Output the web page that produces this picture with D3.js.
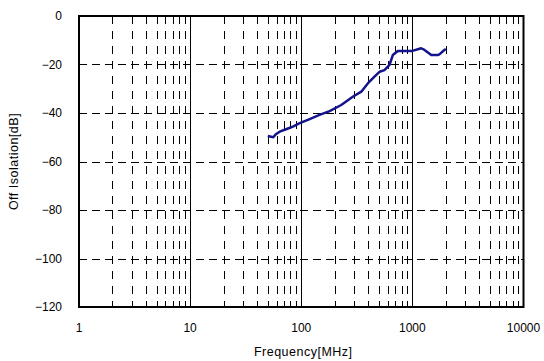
<!DOCTYPE html>
<html>
<head>
<meta charset="utf-8">
<script src="https://cdn.jsdelivr.net/npm/d3@7"></script>
<style>
  body { margin: 0; background: #fff; }
  text { font-family: "Liberation Sans", Arial, sans-serif; fill: #000; }
</style>
</head>
<body>
<div id="svganchor"></div>
<script>
// size of the canvas
const width = 544;
const height = 361;
const margin = { top: 16, left: 79, right: 20, bottom: 54 };

// data
const freq = [50, 56, 59, 64, 74, 84, 97, 119, 146, 180, 229, 291, 347, 397, 456, 506, 561, 622, 667, 740, 1000, 1200, 1285, 1480, 1690, 1750, 1940, 2000];
const isolation = [-49.5, -50, -48.8, -47.7, -46.6, -45.6, -44.2, -42.5, -40.8, -39.2, -36.7, -33.3, -31.2, -27.8, -25, -23, -22.3, -20.2, -16.1, -14.4, -14.4, -13.3, -14, -16.1, -16.1, -15.8, -14, -13.6];
const xTicks = [1, 10, 100, 1000, 10000];
const yTicks = [0, -20, -40, -60, -80, -100, -120];

const svg = d3.select("#svganchor")
  .append("svg")
  .attr("width", width)
  .attr("height", height);

const x = d3.scaleLog()
  .domain([1, 10000])
  .range([margin.left, width - margin.right - 0.5]);

const y = d3.scaleLinear()
  .domain([-120, 0])
  .range([height - margin.bottom, margin.top]);

// minor vertical dashed lines (2..9 in each decade)
const minor = [];
for (let d = 1; d < 10000; d *= 10) {
  for (let k = 2; k <= 9; k++) minor.push(d * k);
}
svg.append("g")
  .selectAll("line")
  .data(minor)
  .enter()
  .append("line")
  .attr("x1", d => Math.round(x(d)) + 0.5)
  .attr("x2", d => Math.round(x(d)) + 0.5)
  .attr("y1", y(0))
  .attr("y2", y(-120))
  .attr("stroke", "#000")
  .attr("stroke-width", 1)
  .attr("stroke-dasharray", "8,7");

// horizontal dashed lines
svg.append("g")
  .selectAll("line")
  .data(yTicks.filter(d => d !== 0 && d !== -120))
  .enter()
  .append("line")
  .attr("x1", x(1))
  .attr("x2", x(10000))
  .attr("y1", d => Math.round(y(d)) + 0.5)
  .attr("y2", d => Math.round(y(d)) + 0.5)
  .attr("stroke", "#000")
  .attr("stroke-width", 1)
  .attr("stroke-dasharray", "8,5");

// solid decade lines
svg.append("g")
  .selectAll("line")
  .data(xTicks.filter(d => d !== 1 && d !== 10000))
  .enter()
  .append("line")
  .attr("x1", d => Math.round(x(d)) + 0.5)
  .attr("x2", d => Math.round(x(d)) + 0.5)
  .attr("y1", y(0))
  .attr("y2", y(-120))
  .attr("stroke", "#000")
  .attr("stroke-width", 1);

// plot frame
svg.append("rect")
  .attr("x", x(1))
  .attr("y", y(0))
  .attr("width", x(10000) - x(1))
  .attr("height", y(-120) - y(0))
  .attr("fill", "none")
  .attr("stroke", "#000")
  .attr("stroke-width", 2);

// the curve
const line = d3.line()
  .x((d, i) => x(freq[i]))
  .y(d => y(d));

svg.append("path")
  .datum(isolation)
  .attr("fill", "none")
  .attr("stroke", "#14148c")
  .attr("stroke-width", 2.5)
  .attr("stroke-linejoin", "round")
  .attr("d", line);

// tick labels
const fmt = d => (d < 0 ? "\u2212" + Math.abs(d) : String(d));

svg.append("g")
  .selectAll("text")
  .data(yTicks)
  .enter()
  .append("text")
  .attr("x", 62)
  .attr("y", d => y(d))
  .attr("dy", "0.35em")
  .attr("text-anchor", "end")
  .style("font-size", "12px")
  .text(fmt);

svg.append("g")
  .selectAll("text")
  .data(xTicks)
  .enter()
  .append("text")
  .attr("x", d => x(d))
  .attr("y", 328)
  .attr("dy", "0.35em")
  .attr("text-anchor", "middle")
  .style("font-size", "12px")
  .text(d => String(d));

// axis titles
svg.append("text")
  .attr("x", (x(1) + x(10000)) / 2 + 2)
  .attr("y", 352)
  .attr("dy", "0.35em")
  .attr("text-anchor", "middle")
  .style("font-size", "12.5px")
  .style("letter-spacing", "0.5px")
  .text("Frequency[MHz]");

svg.append("text")
  .attr("transform", "translate(14," + (y(0) + y(-120)) / 2 + ") rotate(-90)")
  .attr("dy", "0.35em")
  .attr("text-anchor", "middle")
  .style("font-size", "12.5px")
  .style("letter-spacing", "0.5px")
  .text("Off Isolation[dB]");
</script>
</body>
</html>
